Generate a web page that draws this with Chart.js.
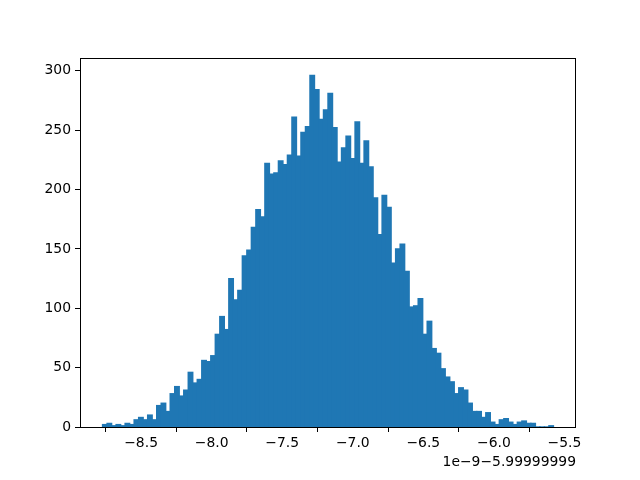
<!DOCTYPE html>
<html>
<head>
<meta charset="utf-8">
<script src="https://cdn.jsdelivr.net/npm/chart.js@4.4.0/dist/chart.umd.min.js"></script>
<style>
  html, body { margin: 0; padding: 0; background: #fff; }
  canvas { display: block; }
</style>
</head>
<body>
<canvas id="hist" width="640" height="480"></canvas>
<script>
// histogram range (in units of the offset axis: value = -5.99999999 + x*1e-9)
var histMin = -8.773;
var histMax = -5.578;

// counts per bin, 100 bins
var counts = [
    2, 3, 1, 2, 1, 3, 2, 6, 8, 6,
    10, 6, 18, 20, 13, 28, 34, 26, 31, 46,
    37, 40, 56, 55, 60, 78, 93, 82, 125, 107,
    115, 144, 149, 168, 183, 177, 222, 213, 214, 224,
    221, 229, 261, 228, 248, 253, 296, 284, 259, 267,
    281, 252, 223, 235, 245, 226, 257, 222, 241, 219,
    193, 162, 195, 185, 138, 150, 154, 131, 101, 102,
    108, 78, 89, 66, 62, 49, 42, 38, 28, 33,
    31, 20, 13, 13, 8, 12, 4, 2, 6, 7,
    4, 2, 4, 5, 3, 3, 0, 0, 0, 1
];

var xTicks = [-8.5, -8.0, -7.5, -7.0, -6.5, -6.0, -5.5];
var yTicks = [0, 50, 100, 150, 200, 250, 300];
var offsetText = '1e\u22129\u22125.99999999';

var binWidth = (histMax - histMin) / counts.length;
var points = counts.map((c, i) => ({x: histMin + (i + 0.5) * binWidth, y: c}));

var minus = s => String(s).replace('-', '\u2212');
var font = {family: 'DejaVu Sans', size: 13.9};

var frame = {
    id: 'frame',
    afterDraw(chart) {
        var a = chart.chartArea, ctx = chart.ctx;
        ctx.save();
        ctx.strokeStyle = '#000';
        ctx.lineWidth = 1;
        ctx.strokeRect(a.left + 0.5, a.top + 0.5, a.right - a.left - 1, a.bottom - a.top);
        ctx.fillStyle = '#000';
        ctx.font = '13.9px "DejaVu Sans"';
        ctx.textAlign = 'right';
        ctx.textBaseline = 'middle';
        ctx.fillText(offsetText, a.right, 462);
        ctx.restore();
    }
};

new Chart(document.getElementById('hist'), {
    type: 'bar',
    data: {
        datasets: [{
            data: points,
            backgroundColor: '#1f77b4',
            borderWidth: 0,
            barPercentage: 1.0,
            categoryPercentage: 1.0,
            inflateAmount: 0.7   // no light seams between bins
        }]
    },
    options: {
        responsive: false,
        animation: false,
        layout: {padding: {top: 58, right: 64, left: 0, bottom: 0}},
        plugins: {legend: {display: false}, tooltip: {enabled: false}},
        scales: {
            x: {
                type: 'linear',
                offset: false,
                min: -8.933,
                max: -5.418,
                afterFit: s => { s.height = 53; },
                afterBuildTicks: s => { s.ticks = xTicks.map(v => ({value: v})); },
                grid: {drawOnChartArea: false, drawTicks: true, tickLength: 5, color: '#000'},
                border: {display: false},
                ticks: {
                    color: '#000', font: font, padding: 3, maxRotation: 0,
                    callback: v => minus(v.toFixed(1))
                }
            },
            y: {
                min: 0,
                max: 310.8,
                afterFit: s => { s.width = 80; },
                afterBuildTicks: s => { s.ticks = yTicks.map(v => ({value: v})); },
                grid: {drawOnChartArea: false, drawTicks: true, tickLength: 5, color: '#000'},
                border: {display: false},
                ticks: {color: '#000', font: font, padding: 4, callback: v => String(v)}
            }
        }
    },
    plugins: [frame]
});
</script>
</body>
</html>
